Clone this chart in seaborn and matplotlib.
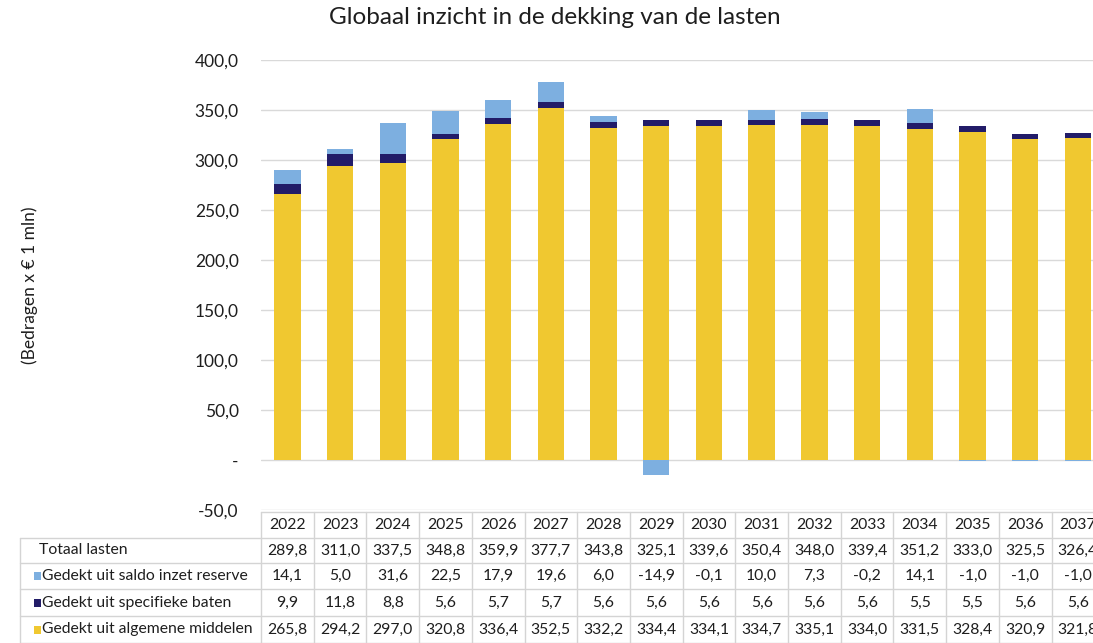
import numpy as np
import pandas as pd
import seaborn as sns
import matplotlib.pyplot as plt
from matplotlib.patches import Rectangle
from matplotlib.lines import Line2D
from matplotlib.ticker import FuncFormatter
from matplotlib.transforms import blended_transform_factory

# Data (bedragen x EUR 1 mln)
jaren = [str(j) for j in range(2022, 2038)]
totaal_lasten = [289.8, 311.0, 337.5, 348.8, 359.9, 377.7, 343.8, 325.1,
                 339.6, 350.4, 348.0, 339.4, 351.2, 333.0, 325.5, 326.4]
saldo_reserve = [14.1, 5.0, 31.6, 22.5, 17.9, 19.6, 6.0, -14.9,
                 -0.1, 10.0, 7.3, -0.2, 14.1, -1.0, -1.0, -1.0]
specifieke_baten = [9.9, 11.8, 8.8, 5.6, 5.7, 5.7, 5.6, 5.6,
                    5.6, 5.6, 5.6, 5.6, 5.5, 5.5, 5.6, 5.6]
algemene_middelen = [265.8, 294.2, 297.0, 320.8, 336.4, 352.5, 332.2, 334.4,
                     334.1, 334.7, 335.1, 334.0, 331.5, 328.4, 320.9, 321.8]

rij_labels = ["Totaal lasten", "Gedekt uit saldo inzet reserve",
              "Gedekt uit specifieke baten", "Gedekt uit algemene middelen"]

geel = "#F0C830"
navy = "#221C68"
lichtblauw = "#7DAFE0"
grid_kleur = "#D9D9D9"
tekst_kleur = "#1E1E1E"

sns.set_theme(style="white")
plt.rcParams['font.family'] = ['Lato', 'DejaVu Sans']

W, H = 1093, 643
fig = plt.figure(figsize=(W / 100, H / 100), dpi=100)

# axes: left at 260px, column width ~52.7px, 400 at y=60, -50 at y=510
col_w = 52.7
ax_left, ax_top, ax_bot = 261, 60, 510
ax = fig.add_axes([ax_left / W, 1 - ax_bot / H, 16 * col_w / W, (ax_bot - ax_top) / H])

df = pd.DataFrame({"jaar": jaren, "algemeen": algemene_middelen,
                   "specifiek": specifieke_baten, "reserve": saldo_reserve})
alg = np.array(algemene_middelen)
spec = np.array(specifieke_baten)
res = np.array(saldo_reserve)
res_bottom = np.where(res >= 0, alg + spec, 0)

bar_kws = dict(saturation=1, width=0.5, errorbar=None, ax=ax, zorder=3, linewidth=0)
sns.barplot(data=df, x="jaar", y="algemeen", color=geel, **bar_kws)
sns.barplot(data=df, x="jaar", y="specifiek", bottom=alg, color=navy, **bar_kws)
sns.barplot(data=df, x="jaar", y="reserve", bottom=res_bottom, color=lichtblauw, **bar_kws)

ax.set_xlim(-0.5, len(jaren) - 0.5)
ax.set_ylim(-50, 400)
ax.set_yticks(np.arange(-50, 401, 50))
ax.yaxis.set_major_formatter(FuncFormatter(
    lambda v, p: "-" if abs(v) < 1e-9 else f"{v:.1f}".replace(".", ",")))
ax.tick_params(axis="y", labelsize=12.5, labelcolor=tekst_kleur, length=0, pad=16)
ax.set_xticks([])
ax.set_xlabel("")
ax.set_ylabel("")
for s in ax.spines.values():
    s.set_visible(False)
ax.yaxis.grid(True, color=grid_kleur, linewidth=1, zorder=0)
ax.set_axisbelow(True)

fig.text(555 / W, 1 - 18 / H, "Globaal inzicht in de dekking van de lasten",
         ha="center", va="center", fontsize=17.5, color=tekst_kleur)
fig.text(30 / W, 1 - 285 / H, "(Bedragen x \u20ac 1 mln)", rotation=90,
         ha="center", va="center", fontsize=12.5, color=tekst_kleur)

# data table
rij_y = [512, 538, 563, 589, 616, 643]
tr = blended_transform_factory(ax.transData, fig.transFigure)
tab_kleur = "#D4D4D4"
fy = lambda py: 1 - py / H
x_rechts = len(jaren) - 0.5

# horizontal lines
fig.add_artist(Line2D([-0.5, x_rechts], [fy(rij_y[0])] * 2, transform=tr,
                      color=tab_kleur, lw=1))
for py in rij_y[1:]:
    fig.add_artist(Line2D([20 / W, ax_left / W], [fy(py)] * 2,
                          transform=fig.transFigure, color=tab_kleur, lw=1))
    fig.add_artist(Line2D([-0.5, x_rechts], [fy(py)] * 2, transform=tr,
                          color=tab_kleur, lw=1))
fig.add_artist(Line2D([20 / W] * 2, [fy(rij_y[1]), fy(rij_y[-1])],
                      transform=fig.transFigure, color=tab_kleur, lw=1))
for i in range(len(jaren) + 1):
    fig.add_artist(Line2D([i - 0.5] * 2, [fy(rij_y[0]), fy(rij_y[-1])], transform=tr,
                          color=tab_kleur, lw=1))

fmt = lambda v: f"{v:.1f}".replace(".", ",")
rijen = [totaal_lasten, saldo_reserve, specifieke_baten, algemene_middelen]
for i, jaar in enumerate(jaren):
    yc = fy((rij_y[0] + rij_y[1]) / 2)
    fig.text(i, yc, jaar, transform=tr, ha="center", va="center",
             fontsize=11.3, color=tekst_kleur)
    for r, waarden in enumerate(rijen):
        yc = fy((rij_y[r + 1] + rij_y[r + 2]) / 2)
        fig.text(i, yc, fmt(waarden[i]), transform=tr, ha="center", va="center",
                 fontsize=11.3, color=tekst_kleur)

marker_kleuren = [None, lichtblauw, navy, geel]
for r, label in enumerate(rij_labels):
    yc = (rij_y[r + 1] + rij_y[r + 2]) / 2
    if marker_kleuren[r] is None:
        fig.text(39 / W, fy(yc), label, ha="left", va="center",
                 fontsize=11.3, color=tekst_kleur)
    else:
        fig.add_artist(Rectangle((34 / W, fy(yc + 4)), 7 / W, 8 / H,
                                 transform=fig.transFigure,
                                 color=marker_kleuren[r], lw=0))
        fig.text(42 / W, fy(yc), label, ha="left", va="center",
                 fontsize=11.3, color=tekst_kleur)

fig.savefig("out.png", dpi=100)
